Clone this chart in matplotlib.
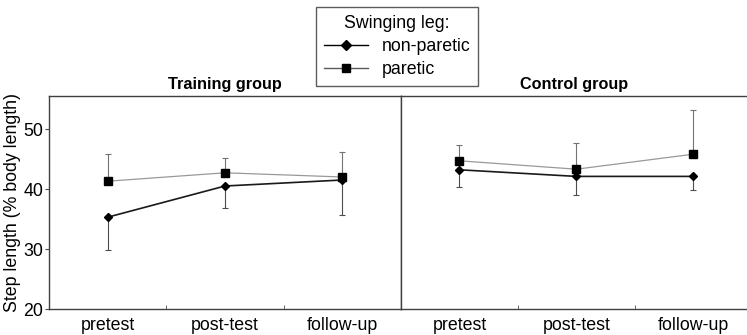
import matplotlib.pyplot as plt
from matplotlib.lines import Line2D

plt.rcParams['font.family'] = ['Liberation Sans', 'DejaVu Sans']

sessions = ['pretest', 'post-test', 'follow-up']
x = [1, 2, 3]

# training group
train_nonparetic = [35.3, 40.5, 41.5]
train_nonparetic_sd = [5.5, 3.6, 5.8]
train_paretic = [41.3, 42.7, 42.0]
train_paretic_sd = [4.5, 2.5, 4.1]

# control group
ctrl_nonparetic = [43.2, 42.1, 42.1]
ctrl_nonparetic_sd = [2.9, 3.1, 2.3]
ctrl_paretic = [44.7, 43.3, 45.8]
ctrl_paretic_sd = [2.6, 4.3, 7.4]

fig = plt.figure(figsize=(7.47, 3.35), dpi=100)
ax1 = fig.add_axes([49 / 747, 1 - 309 / 335, 352 / 747, 213 / 335])
ax2 = fig.add_axes([401 / 747, 1 - 309 / 335, 346 / 747, 213 / 335])


def draw_group(ax, nonpar, nonpar_sd, par, par_sd, title):
    # error bars: paretic upward, non-paretic downward
    ax.errorbar(x, par, yerr=[[0] * 3, par_sd], fmt='none', ecolor='0.45',
                elinewidth=0.8, capsize=2, capthick=0.8, zorder=2)
    ax.errorbar(x, nonpar, yerr=[nonpar_sd, [0] * 3], fmt='none', ecolor='0.3',
                elinewidth=0.8, capsize=2, capthick=0.8, zorder=2)
    ax.plot(x, par, color='0.6', linewidth=0.9, marker='s', markersize=5.5,
            markerfacecolor='black', markeredgecolor='black', zorder=3)
    ax.plot(x, nonpar, color='0.1', linewidth=1.2, marker='D', markersize=4,
            markerfacecolor='black', markeredgecolor='black', zorder=4)
    ax.set_ylim(20, 55.5)
    ax.set_xticks(x)
    ax.set_xticklabels(sessions, fontsize=12.8)
    ax.set_xticks([1.5, 2.5], minor=True)
    ax.tick_params(axis='x', which='major', length=0, pad=6)
    ax.tick_params(axis='x', which='minor', length=3, direction='in', color='0.3')
    ax.set_title(title, fontsize=11.7, fontweight='bold', pad=5)
    for s in ax.spines.values():
        s.set_color('0.25')
        s.set_linewidth(1.0)


draw_group(ax1, train_nonparetic, train_nonparetic_sd, train_paretic,
           train_paretic_sd, 'Training group')
draw_group(ax2, ctrl_nonparetic, ctrl_nonparetic_sd, ctrl_paretic,
           ctrl_paretic_sd, 'Control group')

ax1.set_xlim(0.5, 3.5)
ax2.set_xlim(0.5, 3.46)

ax1.set_yticks([20, 30, 40, 50])
ax1.tick_params(axis='y', labelsize=12.8, length=3, pad=1, color='0.3')
ax1.set_ylabel('Step length (% body length)', fontsize=12.8, labelpad=2)

ax2.set_yticks([])
ax2.spines['right'].set_visible(False)

handles = [
    Line2D([], [], color='black', linewidth=1.0, marker='D', markersize=5,
           markerfacecolor='black'),
    Line2D([], [], color='0.35', linewidth=1.0, marker='s', markersize=6,
           markerfacecolor='black', markeredgecolor='black'),
]
leg = fig.legend(handles, ['non-paretic', 'paretic'], title='Swinging leg:',
                 loc='upper center', bbox_to_anchor=(397 / 747, 1 - 7 / 335),
                 fontsize=12.8, title_fontsize=12.8, frameon=True,
                 fancybox=False, edgecolor='0.2', handlelength=2.5,
                 handletextpad=0.75, borderpad=0.45, labelspacing=0.33,
                 borderaxespad=0)
leg.get_frame().set_linewidth(1.0)

fig.savefig('out.png', dpi=100)
